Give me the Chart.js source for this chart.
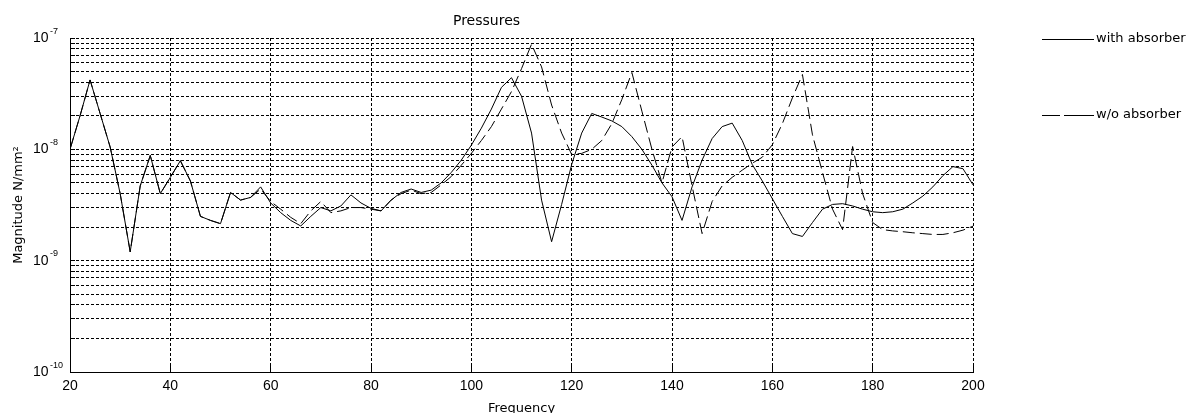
<!DOCTYPE html>
<html>
<head>
<meta charset="utf-8">
<title>Pressures</title>
<script src="https://cdn.jsdelivr.net/npm/chart.js@4/dist/chart.umd.min.js"></script>
<style>
  html, body { margin: 0; padding: 0; background: #fff; overflow: hidden; }
</style>
</head>
<body>
<canvas id="pressureChart" width="1190" height="413"></canvas>
<script>
// Frequency points (Hz)
const freq = [20, 22, 24, 26, 28, 30, 32, 34, 36, 38,
  40, 42, 44, 46, 48, 50, 52, 54, 56, 58,
  60, 62, 64, 66, 68, 70, 72, 74, 76, 78,
  80, 82, 84, 86, 88, 90, 92, 94, 96, 98,
  100, 102, 104, 106, 108, 110, 112, 114, 116, 118,
  120, 122, 124, 126, 128, 130, 132, 134, 136, 138,
  140, 142, 144, 146, 148, 150, 152, 154, 156, 158,
  160, 162, 164, 166, 168, 170, 172, 174, 176, 178,
  180, 182, 184, 186, 188, 190, 192, 194, 196, 198, 200];

// Magnitude N/mm^2, with absorber (solid line)
const withAbsorber = [1.0e-8, 2.0e-8, 4.2e-8, 2.1e-8, 1.05e-8, 4.0e-9, 1.2e-9, 4.7e-9, 8.8e-9, 4.0e-9,
  5.6e-9, 7.9e-9, 5.2e-9, 2.5e-9, 2.3e-9, 2.15e-9, 4.1e-9, 3.5e-9, 3.7e-9, 4.6e-9,
  3.3e-9, 2.7e-9, 2.3e-9, 2.05e-9, 2.5e-9, 3.0e-9, 2.8e-9, 3.1e-9, 3.9e-9, 3.3e-9,
  2.95e-9, 2.8e-9, 3.5e-9, 4.1e-9, 4.4e-9, 4.1e-9, 4.3e-9, 5.0e-9, 6.2e-9, 8.0e-9,
  1.09e-8, 1.55e-8, 2.3e-8, 3.6e-8, 4.4e-8, 3.0e-8, 1.4e-8, 3.5e-9, 1.48e-9, 3.2e-9,
  7.3e-9, 1.4e-8, 2.1e-8, 1.95e-8, 1.8e-8, 1.6e-8, 1.3e-8, 1.0e-8, 7.2e-9, 5.0e-9,
  3.75e-9, 2.3e-9, 4.6e-9, 8.0e-9, 1.25e-8, 1.6e-8, 1.72e-8, 1.2e-8, 7.3e-9, 5.2e-9,
  3.6e-9, 2.5e-9, 1.75e-9, 1.65e-9, 2.2e-9, 2.9e-9, 3.2e-9, 3.25e-9, 3.1e-9, 2.9e-9,
  2.75e-9, 2.7e-9, 2.75e-9, 2.9e-9, 3.3e-9, 3.8e-9, 4.6e-9, 5.8e-9, 7.0e-9, 6.7e-9, 4.8e-9];

// Magnitude N/mm^2, without absorber (dashed line)
const withoutAbsorber = [1.0e-8, 2.0e-8, 4.2e-8, 2.1e-8, 1.05e-8, 4.0e-9, 1.2e-9, 4.7e-9, 8.8e-9, 4.0e-9,
  5.6e-9, 7.9e-9, 5.2e-9, 2.5e-9, 2.3e-9, 2.15e-9, 4.1e-9, 3.5e-9, 3.7e-9, 4.4e-9,
  3.4e-9, 2.9e-9, 2.45e-9, 2.15e-9, 2.8e-9, 3.4e-9, 2.7e-9, 2.8e-9, 3.0e-9, 3.0e-9,
  2.9e-9, 2.8e-9, 3.5e-9, 4.0e-9, 4.3e-9, 4.0e-9, 4.1e-9, 4.8e-9, 5.7e-9, 7.2e-9,
  9.2e-9, 1.2e-8, 1.6e-8, 2.3e-8, 3.3e-8, 5.3e-8, 8.8e-8, 5.5e-8, 2.5e-8, 1.4e-8,
  9.0e-9, 9.2e-9, 1.0e-8, 1.2e-8, 1.7e-8, 2.8e-8, 4.9e-8, 2.2e-8, 1.0e-8, 5.0e-9,
  1.05e-8, 1.3e-8, 4.7e-9, 1.75e-9, 3.4e-9, 4.7e-9, 5.6e-9, 6.5e-9, 7.5e-9, 8.5e-9,
  1.1e-8, 1.7e-8, 2.9e-8, 4.7e-8, 1.35e-8, 6.2e-9, 2.9e-9, 1.9e-9, 1.06e-8, 4.0e-9,
  2.2e-9, 1.9e-9, 1.85e-9, 1.82e-9, 1.78e-9, 1.75e-9, 1.72e-9, 1.72e-9, 1.78e-9, 1.88e-9, 2.04e-9];

// Y grid lines (log decades and their minor steps) and decade labels
const yGrid = [1e-10, 2e-10, 3e-10, 4e-10, 5e-10, 6e-10, 7e-10, 8e-10, 9e-10,
  1e-9, 2e-9, 3e-9, 4e-9, 5e-9, 6e-9, 7e-9, 8e-9, 9e-9,
  1e-8, 2e-8, 3e-8, 4e-8, 5e-8, 6e-8, 7e-8, 8e-8, 9e-8, 1e-7];
const yDecades = [1e-10, 1e-9, 1e-8, 1e-7];
const yExponents = ['-10', '-9', '-8', '-7'];

const seriesNames = ['with absorber', 'w/o absorber'];

// Draws the 10^n labels on the y axis with a raised exponent
const decadeLabels = {
  id: 'decadeLabels',
  afterDraw(chart) {
    const ctx = chart.ctx;
    const yScale = chart.scales.y;
    ctx.save();
    ctx.fillStyle = '#000';
    ctx.textAlign = 'left';
    ctx.textBaseline = 'alphabetic';
    yDecades.forEach((v, i) => {
      const py = yScale.getPixelForValue(v);
      ctx.font = '14px "Liberation Sans"';
      ctx.fillText('10', 33, py + 4);
      const w = ctx.measureText('10').width;
      ctx.font = '9px "Liberation Sans"';
      ctx.fillText(yExponents[i], 33 + w + 1.5, py - 4.5);
    });
    ctx.restore();
  }
};

// Legend off to the right of the axes, like the original figure
const sideLegend = {
  id: 'sideLegend',
  afterDraw(chart) {
    const ctx = chart.ctx;
    ctx.save();
    ctx.strokeStyle = '#000';
    ctx.lineWidth = 1;
    // solid
    ctx.beginPath();
    ctx.moveTo(1042, 39.5);
    ctx.lineTo(1094, 39.5);
    ctx.stroke();
    // dashed (two dashes)
    ctx.beginPath();
    ctx.moveTo(1042, 115.5);
    ctx.lineTo(1060, 115.5);
    ctx.moveTo(1064, 115.5);
    ctx.lineTo(1094, 115.5);
    ctx.stroke();
    ctx.fillStyle = '#000';
    ctx.font = '13px "DejaVu Sans"';
    ctx.textAlign = 'left';
    ctx.textBaseline = 'middle';
    ctx.fillText(seriesNames[0], 1096, 39);
    ctx.fillText(seriesNames[1], 1096, 115);
    ctx.restore();
  }
};

Chart.defaults.color = '#000';

const ctx = document.getElementById('pressureChart').getContext('2d');
const pressureChart = new Chart(ctx, {
  type: 'line',
  data: {
    datasets: [{
      label: seriesNames[0],
      data: freq.map((f, i) => ({ x: f, y: withAbsorber[i] })),
      borderColor: '#000',
      borderWidth: 1,
      pointRadius: 0,
      tension: 0,
      fill: false
    }, {
      label: seriesNames[1],
      data: freq.map((f, i) => ({ x: f, y: withoutAbsorber[i] })),
      borderColor: '#000',
      borderWidth: 1,
      borderDash: [12, 5],
      pointRadius: 0,
      tension: 0,
      fill: false
    }]
  },
  options: {
    responsive: false,
    animation: false,
    layout: {
      padding: { left: 0, right: 217, top: 0, bottom: 0 }
    },
    plugins: {
      legend: { display: false },
      tooltip: { enabled: false },
      title: {
        display: true,
        text: 'Pressures',
        color: '#000',
        font: { family: 'DejaVu Sans', size: 14, weight: 'normal' },
        padding: { top: 13, bottom: 8.2 }
      }
    },
    scales: {
      x: {
        type: 'linear',
        min: 20,
        max: 200,
        afterFit(scale) { scale.height = 41; },
        ticks: {
          stepSize: 20,
          maxRotation: 0,
          autoSkip: false,
          padding: 12,
          color: '#000',
          font: { family: 'Liberation Sans', size: 14 }
        },
        grid: {
          color: '#000',
          lineWidth: 1,
          drawTicks: true,
          tickLength: -6,
          tickBorderDash: []
        },
        border: { display: true, color: '#000', width: 1, dash: [3, 2] },
        title: {
          display: true,
          text: 'Frequency',
          color: '#000',
          font: { family: 'DejaVu Sans', size: 13 },
          padding: { top: 0, bottom: -3 }
        }
      },
      y: {
        type: 'logarithmic',
        min: 1e-10,
        max: 1e-7,
        afterBuildTicks(scale) {
          scale.ticks = yGrid.map(v => ({ value: v }));
        },
        afterFit(scale) { scale.width = 70; },
        ticks: { display: false },
        grid: {
          color: '#000',
          lineWidth: 1,
          drawTicks: true,
          tickLength: -5,
          tickBorderDash: []
        },
        border: { display: true, color: '#000', width: 1, dash: [3, 2] },
        title: {
          display: true,
          text: 'Magnitude N/mm²',
          color: '#000',
          font: { family: 'DejaVu Sans', size: 13 },
          padding: { top: 11, bottom: 0 }
        }
      }
    }
  },
  plugins: [decadeLabels, sideLegend]
});
</script>
</body>
</html>
